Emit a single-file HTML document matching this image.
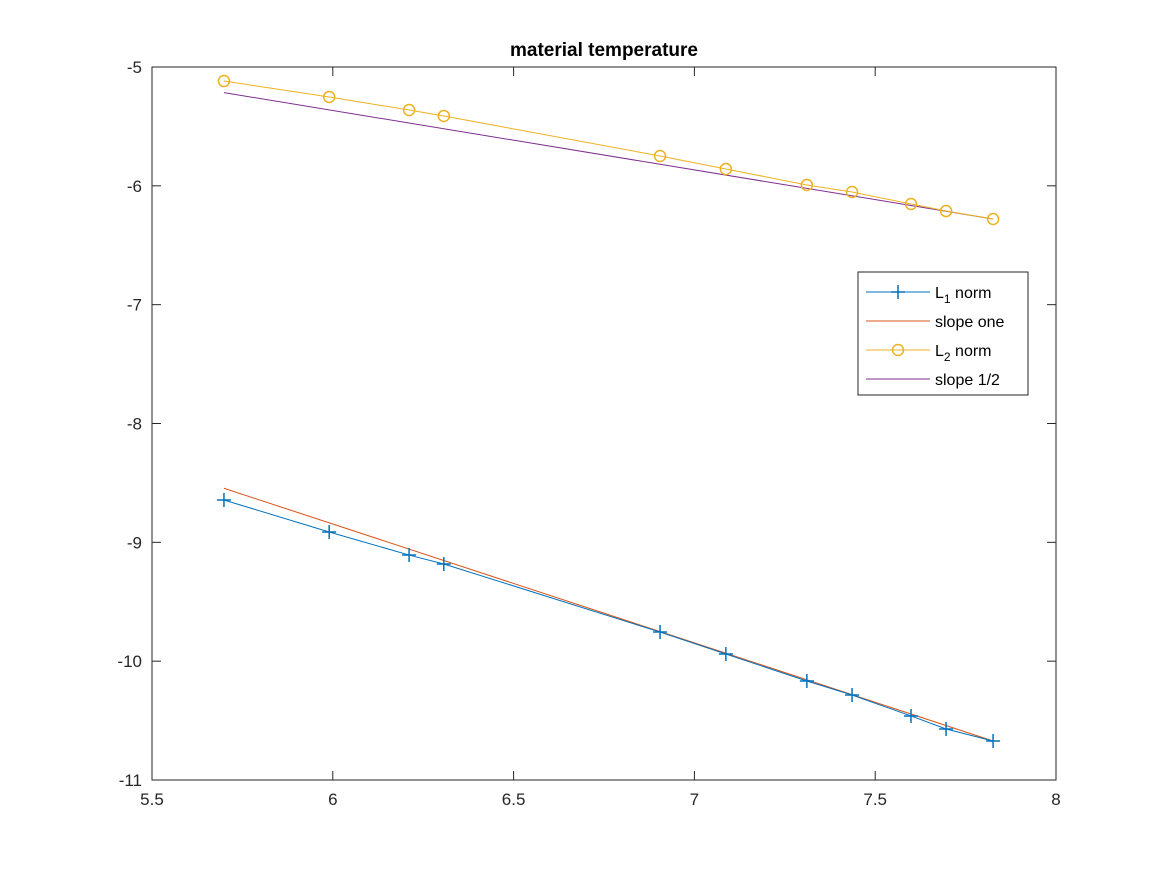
<!DOCTYPE html>
<html><head><meta charset="utf-8"><style>
body{margin:0;background:#fff;font-family:"Liberation Sans",sans-serif}
svg text{font-family:"Liberation Sans",sans-serif}
</style></head><body>
<svg id="chart" width="1167" height="875">
<rect x="0" y="0" width="1167" height="875" fill="#fff"/>
<g id="plot"></g>
</svg>
<script>
const xs = [5.699, 5.990, 6.211, 6.307, 6.905, 7.087, 7.311, 7.436, 7.599, 7.696, 7.826];
const l1 = [-8.644, -8.913, -9.107, -9.182, -9.755, -9.940, -10.167, -10.285, -10.461, -10.571, -10.672];
const l2 = [-5.118, -5.252, -5.362, -5.412, -5.749, -5.858, -5.993, -6.052, -6.153, -6.212, -6.279];
const xTicks = [5.5, 6, 6.5, 7, 7.5, 8];
const yTicks = [-5, -6, -7, -8, -9, -10, -11];
const slopes = [1, 0.5];

const X0=152,X1=1056,Y0=67,Y1=780;
const sx=v=>X0+(v-5.5)/(8-5.5)*(X1-X0);
const sy=v=>Y0+(-5-v)/6*(Y1-Y0);
const NS="http://www.w3.org/2000/svg";
const g=document.getElementById('plot');
function mk(t,a,p){const e=document.createElementNS(NS,t);for(const k in a)e.setAttribute(k,a[k]);(p||g).appendChild(e);return e;}

const box=mk('rect',{x:X0,y:Y0,width:X1-X0,height:Y1-Y0,fill:'none',stroke:'#262626','stroke-width':1});



xTicks.forEach(t=>{
  const x=sx(t);
  mk('line',{x1:x,x2:x,y1:Y1,y2:Y1-9,stroke:'#262626'});
  mk('line',{x1:x,x2:x,y1:Y0,y2:Y0+9,stroke:'#262626'});
  const tx=mk('text',{x:x,y:Y1+25,'text-anchor':'middle','font-size':17,fill:'#262626'});
  tx.textContent=String(t);
  
  
});
yTicks.forEach(t=>{
  const y=sy(t);
  mk('line',{x1:X0,x2:X0+9,y1:y,y2:y,stroke:'#262626'});
  mk('line',{x1:X1,x2:X1-9,y1:y,y2:y,stroke:'#262626'});
  const tx=mk('text',{x:X0-10,y:y+6,'text-anchor':'end','font-size':17,fill:'#262626'});
  tx.textContent=String(t);
  
  
});
const title=mk('text',{x:(X0+X1)/2,y:56,'text-anchor':'middle','font-size':19,'font-weight':'bold',fill:'#000'});
title.textContent='material temperature';



function poly(ys,color,name){
  const p=mk('polyline',{points:xs.map((x,i)=>sx(x)+','+sy(ys[i])).join(' '),fill:'none',stroke:color,'stroke-width':1});
  
  
}
function refLine(ys,s,color,name){
  const n=xs.length-1;
  const f=x=>ys[n]+s*(xs[n]-x);
  const l=mk('line',{x1:sx(xs[0]),y1:sy(f(xs[0])),x2:sx(xs[n]),y2:sy(f(xs[n])),stroke:color,'stroke-width':1});
  
  
}
refLine(l1,slopes[0],'#D95319','slope-one-line');
poly(l1,'#0072BD','l1-norm-line');
refLine(l2,slopes[1],'#7E2F8E','slope-half-line');
poly(l2,'#EDB120','l2-norm-line');
xs.forEach((x,i)=>{
  const cx=sx(x),cy=sy(l1[i]);
  const m=mk('path',{d:`M${cx-7},${cy}H${cx+7}M${cx},${cy-7}V${cy+7}`,stroke:'#0072BD','stroke-width':1.5});
  
  
  const c=mk('circle',{cx:sx(x),cy:sy(l2[i]),r:5.5,fill:'none',stroke:'#EDB120','stroke-width':1.5});
  
  
});

// legend
const lg=mk('g',{});


mk('rect',{x:858,y:272,width:170,height:123,fill:'#fff',stroke:'#262626'},lg);
const items=[['#0072BD','plus','L','1',' norm'],['#D95319','','slope one'],['#EDB120','circle','L','2',' norm'],['#7E2F8E','','slope 1/2']];
items.forEach((it,i)=>{
  const y=292+i*29;
  const e=mk('g',{},lg);
  
  
  mk('line',{x1:866,x2:930,y1:y,y2:y,stroke:it[0]},e);
  if(it[1]==='plus')mk('path',{d:`M891,${y}H905M898,${y-7}V${y+7}`,stroke:it[0],'stroke-width':1.5},e);
  if(it[1]==='circle')mk('circle',{cx:898,cy:y,r:5.5,fill:'none',stroke:it[0],'stroke-width':1.5},e);
  const t=mk('text',{x:935,y:y+6,'font-size':16,fill:'#000'},e);
  if(it.length>3){
    t.textContent=it[2];
    const s=mk('tspan',{dy:5,'font-size':12},t);s.textContent=it[3];
    const r=mk('tspan',{dy:-5},t);r.textContent=it[4];
  } else t.textContent=it[2];
});
</script>
</body></html>
